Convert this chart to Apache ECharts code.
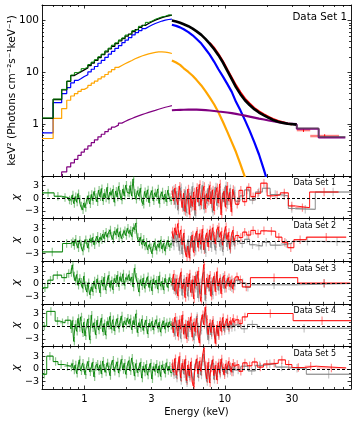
<!DOCTYPE html>
<html>
<head>
<meta charset="utf-8">
<script src="https://cdn.jsdelivr.net/npm/echarts@6/dist/echarts.min.js"></script>
<style>
  html, body { margin: 0; padding: 0; background: #fff; }
  #chart { width: 357px; height: 421px; }
</style>
</head>
<body>
<div id="chart"></div>
<script>
const lg = Math.log10

// ---- axis ranges and ticks ----
const E_MIN = 0.5, E_MAX = 79
const X_MAJOR = [1, 10]
const X_MINOR = [0.6, 0.7, 0.8, 0.9, 2, 3, 4, 5, 6, 7, 8, 9, 20, 30, 40, 50, 60, 70]
const X_LABELS = [1, 3, 10, 30]
const F_MIN = 0.1, F_MAX = 200
const F_MAJOR = [1, 10, 100]
const F_MINOR = [0.2, 0.3, 0.4, 0.5, 0.6, 0.7, 0.8, 0.9, 2, 3, 4, 5, 6, 7, 8, 9, 20, 30, 40, 50, 60, 70, 80, 90, 200]
const R_MIN = -4.8, R_MAX = 5.3
const R_MAJOR = [-3, 0, 3]
const R_MINOR = [-4, -2, -1, 1, 2, 4, 5]

// ---- unfolded spectrum, low energy part (bin edges, step values) ----
const LO_E = [0.50, 0.60, 0.69, 0.75, 0.80, 0.85, 0.90, 0.95, 1.00, 1.06, 1.12, 1.18, 1.25, 1.32, 1.40, 1.48, 1.56, 1.65, 1.75, 1.85, 1.95, 2.06, 2.18, 2.30, 2.43, 2.57, 2.72, 2.87, 3.03, 3.20, 3.38, 3.57, 3.77, 3.98, 4.20]
const totalLo = [1.3, 3.0, 4.6, 6.7, 8.7, 9.5, 10.3, 11.2, 12.2, 13.6, 15.2, 17.0, 19.3, 22.0, 25.0, 28.5, 32.0, 36.0, 40.5, 45.0, 50.0, 55.0, 61.0, 67.0, 74, 81, 88, 95, 102, 108, 114, 119, 124, 128, 131]
const blueLo = [0.68, 2.6, 3.9, 5.1, 6.3, 7.0, 7.6, 8.3, 9.0, 10.2, 11.5, 13.0, 15.0, 17.0, 19.5, 22.5, 25.5, 29.0, 33.0, 37.5, 42.0, 47.0, 53.0, 58.5, 64.0, 70.0, 76.0, 82.0, 88.0, 93.0, 98.0, 102, 105, 107, 108]
const orangeLo = [0.53, 1.29, 2.0, 2.9, 3.5, 3.9, 4.3, 4.7, 5.1, 5.6, 6.2, 6.8, 7.5, 8.2, 9.1, 10.2, 11.3, 12.5, 13.6, 14.7, 15.8, 17.0, 18.3, 19.5, 20.7, 21.8, 22.8, 23.6, 24.3, 24.8, 24.9, 24.6, 24.0, 23.2, 22.4]
const purpleLo = [0.03, 0.07, 0.12, 0.15, 0.18, 0.21, 0.25, 0.29, 0.33, 0.38, 0.44, 0.50, 0.57, 0.64, 0.72, 0.80, 0.88, 0.96, 1.05, 1.13, 1.21, 1.29, 1.37, 1.45, 1.53, 1.61, 1.69, 1.77, 1.85, 1.94, 2.03, 2.12, 2.20, 2.28, 2.33]
const greenLo = [1.32, 3.05, 4.7, 6.8, 8.9, 9.9, 10.5, 11.8, 12.5, 14.2, 15.8, 17.6, 20.1, 22.6, 26.0, 29.4, 33.5, 37.2, 42.3, 46.4, 52.5, 56.8, 63.9, 69.2, 77.5, 83.6, 92.4, 97.8, 106, 112, 118, 121, 129, 127, 134]

// ---- unfolded spectrum, high energy part ----
const HI_E = [4.2, 4.5, 4.8, 5.1, 5.5, 5.9, 6.3, 6.8, 7.3, 7.8, 8.4, 9.0, 9.7, 10.4, 11.2, 12.0, 12.9, 13.9, 15.0, 16.2, 17.5, 19.0, 20.5, 22.0, 24.0, 26.0, 28.0, 32.5]
const totalHi = [100, 96, 91, 85, 78, 70, 62, 53, 44, 36, 28, 21.5, 15.5, 10.8, 7.4, 5.2, 3.8, 2.9, 2.35, 1.95, 1.68, 1.48, 1.33, 1.21, 1.12, 1.06, 1.02, 0.98]
const purpleHi = [1.86, 1.88, 1.89, 1.9, 1.91, 1.91, 1.91, 1.89, 1.87, 1.84, 1.8, 1.76, 1.72, 1.68, 1.63, 1.58, 1.52, 1.46, 1.40, 1.34, 1.28, 1.23, 1.18, 1.14, 1.10, 1.06, 1.03, 1.0]
const blueHi = [83, 79, 74, 68, 60, 52, 44, 36, 28, 22, 16, 11.5, 8.3, 6.0, 4.2, 2.7, 1.85, 1.2, 0.75, 0.45, 0.26, 0.13, 0.065]
const orangeHi = [17, 15.5, 14, 12, 10.2, 8.6, 7.1, 5.6, 4.3, 3.3, 2.4, 1.7, 1.1, 0.72, 0.45, 0.29, 0.17, 0.095, 0.05]
const TAIL_E = [32.5, 46.5, 72]
const totalTail = [0.84, 0.57]
const purpleTail = [0.82, 0.555]
const RD_E = [7.8, 8.4, 9.0, 9.7, 10.4, 11.2, 12.0, 12.9, 13.9, 15.0, 16.2, 17.5, 19.0, 20.5, 22.0, 24.0, 26.0, 28.0, 30.0]
const redHi = [37, 29.5, 22.5, 16.2, 11.4, 7.9, 5.6, 4.1, 3.1, 2.5, 2.05, 1.76, 1.55, 1.38, 1.26, 1.15, 1.09, 1.03, 0.99]
const RX_LO = [32.5, 40.5]
const RX_HI = [40.5, 65]
const redX = [0.77, 0.59]
const redXErr = [0.06, 0.05]

// ---- residuals (chi), shared narrow bin edges ----
const GN_E = [0.80, 0.82, 0.84, 0.86, 0.88, 0.90, 0.92, 0.94, 0.97, 0.99, 1.01, 1.04, 1.06, 1.09, 1.12, 1.14, 1.17, 1.20, 1.23, 1.26, 1.29, 1.32, 1.35, 1.38, 1.41, 1.45, 1.48, 1.52, 1.55, 1.59, 1.63, 1.67, 1.71, 1.75, 1.79, 1.83, 1.88, 1.92, 1.97, 2.02, 2.07, 2.11, 2.17, 2.22, 2.27, 2.32, 2.38, 2.44, 2.50, 2.56, 2.62, 2.68, 2.74, 2.81, 2.88, 2.95, 3.02, 3.09, 3.16, 3.24, 3.32, 3.40, 3.48, 3.56, 3.65, 3.74, 3.82, 3.92, 4.01, 4.11, 4.20]
const RN_E = [4.20, 4.30, 4.40, 4.51, 4.62, 4.73, 4.84, 4.96, 5.08, 5.20, 5.32, 5.45, 5.58, 5.71, 5.85, 5.99, 6.13, 6.28, 6.43, 6.58, 6.74, 6.90, 7.07, 7.24, 7.41, 7.59, 7.77, 7.96, 8.15, 8.34, 8.54, 8.75, 8.96, 9.17, 9.39, 9.62, 9.85, 10.09, 10.33, 10.58, 10.83, 11.09, 11.36, 11.63, 11.91]

// data set 1
const gw1E = [0.50, 0.61, 0.69, 0.77, 0.80]
const gw1 = [1.3, 0.5, 0.2, -0.4]
const gn1 = [-0.6, 0.8, -1.2, 0.4, -0.9, 1.1, -0.2, -1.8, -2.7, -1.1,
  -2.2, -0.4, 0.6, -1.3, 0.9, -0.5, 1.6, 0.2, -0.8, 1.9,
  0.4, 2.3, -0.6, 1.2, 0.1, 2.6, -0.3, 1.5, 0.8, 2.1,
  -0.9, 1.7, 0.3, 2.8, 1.0, -0.4, 2.2, 0.6, 3.1, 1.4,
  1.2, 3.0, 0.6, 4.6, 1.2, -0.2, 1.8, 0.5, 2.4, -0.8,
  -1.4, 1.6, 0.2, 2.0, -1.0, 0.9, 1.8, -0.6, 1.3, 0.4,
  2.2, -1.2, 0.7, 1.5, -0.3, 1.0, -0.8, 1.9, 0.2, -0.5]
const rn1 = [1.8, -0.6, 2.4, 0.3, -1.5, 2.9, 0.8, -2.2, 1.2, -3.1,
  -0.4, 2.2, -3.8, 0.6, -1.9, 1.5, -2.8, 2.6, -0.9, 3.3,
  -1.6, 0.4, 2.8, -2.4, 1.1, -0.7, 3.0, -1.3, 2.0, -2.9,
  0.9, 2.5, -1.1, 3.4, -3.9, 0.2, 1.7, -2.1, 2.9, -0.6,
  1.4, -3.2, 2.1, 0.5]
const rt1E = [11.91, 12.6, 13.4, 14.3, 15.3, 16.5, 18.0, 20.0, 22.3, 24.8, 28.3, 31.7, 40.1, 64.4]
const rt1 = [-1.4, 1.9, -0.8, 2.6, 0.4, 1.2, 3.6, 0.6, 0.8, 1.3, -1.8, -2.2, 1.5]
const kn1 = [0.9, 2.1, -1.4, 1.6, -2.8, 0.4, 2.5, -1.0, -2.9, 1.8,
  -3.4, 0.7, 1.2, -2.2, 2.8, -0.6, -4.1, 1.0, 2.2, -1.8,
  0.3, 3.1, -2.6, 0.8, -1.2, 2.4, -0.3, 1.6, -3.3, 0.6,
  2.7, -1.7, 0.4, 2.0, -2.5, 1.3, -0.9, 3.0, -1.5, 0.2,
  2.3, -2.0, 0.9, 1.8]
const kt1E = [11.91, 12.8, 13.8, 15.0, 16.5, 18.5, 21.0, 24.8, 28.3, 31.7, 44.0, 79]
const kt1 = [-0.7, 0.6, 2.0, -0.4, 1.5, 2.4, 0.9, 0.6, -2.4, -2.6, 1.5]

// data set 2
const gw2E = [0.50, 0.70, 0.80]
const gw2 = [-2.6, -0.6]
const gn2 = [-0.6, -0.2, -1.1, 0.4, -0.8, -1.6, 0.2, -0.9, -2.4, -1.2,
  0.3, -0.6, -1.7, 0.5, -0.3, 0.8, -0.9, 0.2, 1.1, -0.4,
  0.9, 0.3, 1.6, 0.6, 2.1, 0.9, 1.8, 2.6, 1.2, 0.4,
  2.3, 1.5, 2.9, 1.0, 2.2, 0.6, 1.7, 2.4, 1.3, 3.0,
  1.8, 2.5, 1.1, 3.2, 2.7, 4.2, 0.8, -0.2, 0.9, -0.8,
  0.4, -1.2, -0.3, -2.1, -0.9, -1.6, -3.0, -1.3, -0.4, -2.2,
  -0.8, -1.5, 0.2, -1.9, -0.6, -2.4, -0.9, 0.1, -1.4, -0.7]
const rn2 = [2.2, 0.6, 3.1, 1.4, 4.1, 0.8, 2.6, -0.9, 1.8, -2.4,
  -3.8, -1.2, -4.0, -0.6, 1.4, -2.7, 0.9, 2.3, -1.5, 1.7,
  -0.8, 2.8, -2.1, 0.5, 1.9, -1.4, 2.6, 0.2, 3.1, 1.2,
  -0.7, 2.7, 3.3, 0.9, 2.2, -1.0, 1.6, 3.4, 0.4, 2.0,
  -1.8, 1.1, 2.5, -0.3]
const rt2E = [11.91, 12.6, 13.4, 14.3, 15.3, 16.5, 18.0, 20.0, 23.0, 25.5, 28.0, 31.0, 38.0, 73.0]
const rt2 = [1.3, 0.8, 2.1, 1.4, 2.5, 1.7, 2.4, 2.3, 0.9, -0.3, -1.6, 0.3, 0.9]
const kn2 = [1.0, -1.2, 2.0, -0.4, 1.6, -2.3, 0.5, -3.1, 0.9, -1.9,
  -2.6, 0.3, -3.4, 1.1, -1.5, 0.2, -2.4, 1.8, -0.8, 0.6,
  -2.0, 1.4, -1.1, -2.8, 0.7, -0.5, 1.9, -1.6, 2.2, -0.3,
  -2.2, 1.0, 2.4, -1.3, 0.5, -2.5, 0.8, 1.7, -1.4, 0.3,
  -2.1, -0.4, 1.2, -1.0]
const kt2E = [11.91, 12.8, 13.8, 15.0, 16.5, 18.5, 21.0, 25.0, 30.0, 50.0, 79]
const kt2 = [0.1, -0.6, 0.4, -0.9, -1.2, -0.3, -1.0, -0.6, -0.1, -0.2]

// data set 3
const gw3E = [0.50, 0.55, 0.60, 0.69, 0.75, 0.80]
const gw3 = [-1.0, 0.8, 2.0, 1.4, 2.4]
const gn3 = [2.6, 4.4, 1.8, 0.6, 2.1, -0.4, 1.2, 0.3, -1.1, 1.7,
  -0.5, -2.0, 0.2, -2.6, -0.8, -1.9, 0.6, -1.2, 1.1, -0.3,
  -2.2, 0.8, -0.6, 1.5, -1.5, 0.4, 1.9, -0.9, 0.7, -1.4,
  1.2, 0.2, 2.0, -0.7, 1.6, 0.5, 2.3, -0.4, 1.4, 0.9,
  2.1, 0.6, 1.5, -0.8, 3.6, 1.5, 0.3, -2.0, 0.9, -0.5,
  1.3, -1.1, 0.4, 1.6, -0.9, 0.7, -1.7, 1.1, -0.2, 0.8,
  -1.3, 1.8, -0.6, 0.5, -1.5, 1.2, 0.1, -0.9, 1.4, 0.3]
const rn3 = [-0.4, 2.2, -1.8, 1.1, -2.9, 0.6, 2.6, -1.2, 0.2, -3.3,
  1.5, -0.8, 2.3, -2.1, 0.9, -3.6, 1.8, -0.5, 2.9, -1.4,
  -4.2, 0.7, 4.5, -2.6, 1.3, -0.9, 2.0, -3.0, 0.4, 1.7,
  -1.9, 2.8, -0.6, 1.2, -2.4, 0.8, 1.9, -1.1, 0.3, 1.4,
  -0.7, 0.9, -1.3, 0.5]
const rt3E = [11.91, 12.5, 13.3, 15.2, 33.0, 78.0]
const rt3 = [1.6, 0.9, -0.8, 1.4, 0.1]
const kn3 = [0.6, -1.5, 1.2, -2.4, 0.3, -0.9, 1.9, -2.8, 1.0, -1.7,
  0.4, -3.0, 1.4, -0.6, -2.2, 0.8, -1.1, 2.1, -3.4, 0.2,
  -2.5, 1.6, 2.7, -4.0, -0.3, 1.1, -1.8, 0.5, -2.7, 1.3,
  -0.4, 1.8, -1.6, 0.7, -0.9, 1.5, -1.2, 0.4, 0.9, -0.5,
  0.6, -1.0, 0.3, -0.6]
const kt3E = [11.91, 12.8, 14.0, 15.2, 33.0, 79]
const kt3 = [0.8, 0.2, -0.9, -0.3, 0.0]

// data set 4
const gw4E = [0.50, 0.54, 0.62, 0.67, 0.73, 0.80]
const gw4 = [0.0, 3.5, 1.2, 0.8, 1.4]
const gn4 = [-0.6, 1.3, -3.6, 0.4, -1.2, 1.8, -0.3, 2.2, -1.6, 0.9,
  -2.3, 0.5, 1.7, -3.2, 2.6, -0.4, 0.8, -2.0, 1.4, -0.9,
  0.3, 1.9, -1.3, 0.6, -2.1, 1.1, 0.2, 2.3, -0.7, 1.5,
  -1.1, 0.7, 1.8, -0.5, 0.9, 2.4, -0.3, 1.2, 0.4, 1.9,
  0.6, 1.7, -0.8, 1.3, 0.3, 2.9, -1.5, 0.8, -0.4, 1.6,
  -1.0, 0.5, 1.4, -1.8, 0.7, -0.2, 1.1, -0.9, 0.6, 1.5,
  -0.5, 0.9, -1.4, 0.4, 1.2, -0.7, 0.8, -0.3, 1.0, 0.2]
const rn4 = [0.8, -1.6, 2.1, 0.3, -2.4, 1.5, -0.7, 2.6, -1.9, 0.5,
  -3.0, 1.2, -0.4, 2.2, -2.6, 0.9, -1.3, 1.8, -2.2, -4.0,
  1.0, 2.7, 0.4, 4.5, 1.6, -2.0, 0.7, -1.5, 1.4, -0.6,
  -4.1, 0.2, -2.3, 1.1, -1.2, 2.0, -0.5, 0.9, 1.7, -0.3,
  1.2, 0.4, 1.8, 0.9]
const rt4E = [11.91, 12.6, 13.3, 14.5, 30.6, 79]
const rt4 = [1.5, 0.6, 2.2, 3.0, 1.3]
const kn4 = [-0.5, 0.9, -2.2, 1.3, -1.1, 0.2, -2.9, 1.7, -0.6, -1.8,
  0.4, -2.5, 1.0, -0.9, 0.6, -3.2, -1.4, 2.3, -0.2, -2.8,
  -1.0, 1.9, 2.4, 3.1, -0.7, -3.3, 0.5, -2.1, 0.8, -1.6,
  -3.0, -0.8, -1.9, 0.3, -0.5, 1.2, -1.1, 0.2, 0.7, -0.9,
  0.4, -0.3, 0.6, -0.2]
const kt4E = [11.91, 13.0, 14.5, 17.0, 79]
const kt4 = [0.3, -0.6, 0.4, -0.5]

// data set 5
const gw5E = [0.50, 0.54, 0.60, 0.65, 0.72, 0.80]
const gw5 = [-1.3, 3.0, 1.7, 1.0, 0.6]
const gn5 = [0.4, 1.2, -0.3, 0.9, -1.1, 0.6, 2.1, -0.5, 1.3, 0.2,
  -1.4, 0.8, 1.7, -0.7, 0.3, 1.5, -1.9, 0.6, 1.1, -0.4,
  0.9, -1.2, 1.8, 0.1, -0.8, 1.4, 0.5, -1.6, 1.0, 2.0,
  -0.6, 0.7, 1.6, -1.0, 0.4, 2.2, -0.2, 1.3, -1.3, 0.8,
  1.9, -0.5, 2.5, 0.6, -1.7, 1.2, -0.9, 0.3, 1.5, -2.2,
  0.6, -0.8, 1.0, -1.5, 0.2, 1.3, -2.4, 0.5, -0.6, 1.1,
  -1.0, 0.7, -1.8, 0.9, 0.1, -1.1, 1.4, -0.4, 0.6, -0.9]
const rn5 = [1.2, -0.8, 2.4, -1.5, 0.6, 2.9, -2.1, 1.3, -0.4, 2.2,
  -2.8, 0.9, -1.7, 1.6, -3.1, -4.2, 0.4, 2.3, -1.2, 1.8,
  -0.6, 2.6, 4.8, 0.7, -2.4, 1.5, -3.3, 0.2, 2.1, -1.6,
  0.8, -2.6, 1.4, -0.9, 2.3, 0.3, -1.4, 1.1, -0.3, 1.7,
  0.5, -0.8, 1.3, 0.6]
const rt5E = [11.91, 12.6, 13.4, 14.4, 15.6, 17.0, 18.8, 21.0, 24.0, 27.0, 30.0, 37.0, 45.0, 73.0]
const rt5 = [1.0, -0.6, 1.4, 0.7, 1.6, 0.4, 1.1, 1.3, 2.1, 1.0, 0.3, 0.6, 0.2]
const kn5 = [0.6, -1.4, 1.5, -2.2, 0.3, 1.8, -2.8, 0.9, -1.2, 1.4,
  -3.3, -0.5, -2.1, 0.8, -1.9, -2.7, 1.2, 1.6, -2.0, 0.9,
  -1.5, 1.7, 3.5, -0.4, -3.0, 0.6, -2.4, 1.0, 1.3, -2.5,
  -0.2, -1.8, 0.7, -1.3, 1.5, -0.6, -0.9, 0.4, -1.1, 0.8,
  -0.4, 0.3, -0.8, 0.5]
const kt5E = [11.91, 13.0, 14.6, 16.5, 19.0, 23.0, 28.0, 38.0, 79]
const kt5 = [-0.3, 0.6, -0.5, 0.8, 1.2, 0.4, 0.1, -1.3]

const SET_NAMES = ['Data Set 1', 'Data Set 2', 'Data Set 3', 'Data Set 4', 'Data Set 5']
const SETS = [
  { gwE: gw1E, gw: gw1, gn: gn1, rn: rn1, rtE: rt1E, rt: rt1, kn: kn1, ktE: kt1E, kt: kt1 },
  { gwE: gw2E, gw: gw2, gn: gn2, rn: rn2, rtE: rt2E, rt: rt2, kn: kn2, ktE: kt2E, kt: kt2 },
  { gwE: gw3E, gw: gw3, gn: gn3, rn: rn3, rtE: rt3E, rt: rt3, kn: kn3, ktE: kt3E, kt: kt3 },
  { gwE: gw4E, gw: gw4, gn: gn4, rn: rn4, rtE: rt4E, rt: rt4, kn: kn4, ktE: kt4E, kt: kt4 },
  { gwE: gw5E, gw: gw5, gn: gn5, rn: rn5, rtE: rt5E, rt: rt5, kn: kn5, ktE: kt5E, kt: kt5 }
]

// ---- layout ----
const FONT = 'DejaVu Sans'
const PLOT_L = 42, PLOT_W = 309
const PANELS = [
  { top: 5, h: 171 },
  { top: 176, h: 42.6 },
  { top: 218.6, h: 42.6 },
  { top: 261.2, h: 42.6 },
  { top: 303.8, h: 42.6 },
  { top: 346.4, h: 42.6 }
]

const GREEN = '#008000', RED = '#ff0000', GRAY = '#808080'
const BLUE = '#0000ff', ORANGE = '#ffa500', PURPLE = '#800080'

// helpers
const concatEdges = (a, b) => a.slice(0, -1).concat(b)
const stepPts = (edges, vals, ylog) => {
  const n = Math.min(vals.length, edges.length - 1)
  const f = ylog ? lg : (v => v)
  const out = []
  for (let i = 0; i < n; i++) out.push([lg(edges[i]), f(vals[i])])
  out.push([lg(edges[n]), f(vals[n - 1])])
  return out
}
const pairPts = (es, vs) => vs.map((v, i) => [lg(es[i]), lg(v)])
const binData = (edges, vals) => {
  const n = Math.min(vals.length, edges.length - 1)
  const out = []
  for (let i = 0; i < n; i++) out.push([lg(edges[i]), lg(edges[i + 1]), vals[i]])
  return out
}
const powLabel = v => {
  const n = Math.pow(10, v)
  return n >= 1 ? String(Math.round(n)) : n.toFixed(1)
}
const chiLabel = v => (v < 0 ? '\u2212' + Math.abs(v) : String(v))

const LINE = { show: true, onZero: false, lineStyle: { color: '#000', width: 0.9 } }
const NOLINE = { show: false, onZero: false }
const tick = (vals, len) => ({ show: true, inside: true, length: len, customValues: vals, lineStyle: { color: '#000', width: 0.8 } })

const grids = [], xAxes = [], yAxes = []
PANELS.forEach((p, g) => {
  grids.push({ left: PLOT_L, width: PLOT_W, top: p.top, height: p.h, containLabel: false, outerBoundsMode: 'none' })
  const last = g === PANELS.length - 1
  const xb = { gridIndex: g, type: 'value', min: lg(E_MIN), max: lg(E_MAX), splitLine: { show: false } }
  xAxes.push(
    Object.assign({}, xb, {
      position: 'bottom', axisLine: LINE, axisTick: tick(X_MAJOR.map(lg), 3.5),
      axisLabel: last ? { customValues: X_LABELS.map(lg), formatter: powLabel, fontSize: 10, fontFamily: FONT, color: '#000', margin: 5 } : { show: false },
      name: last ? 'Energy (keV)' : '', nameLocation: 'middle', nameGap: 18, nameMoveOverlap: false,
      nameTextStyle: { fontSize: 10, fontFamily: FONT, color: '#000' }
    }),
    Object.assign({}, xb, { position: 'bottom', axisLine: NOLINE, axisTick: tick(X_MINOR.map(lg), 2), axisLabel: { show: false } }),
    Object.assign({}, xb, { position: 'top', axisLine: LINE, axisTick: tick(X_MAJOR.map(lg), 3.5), axisLabel: { show: false } }),
    Object.assign({}, xb, { position: 'top', axisLine: NOLINE, axisTick: tick(X_MINOR.map(lg), 2), axisLabel: { show: false } })
  )
  const main = g === 0
  const yb = main
    ? { gridIndex: g, type: 'value', min: lg(F_MIN), max: lg(F_MAX), splitLine: { show: false } }
    : { gridIndex: g, type: 'value', min: R_MIN, max: R_MAX, splitLine: { show: false } }
  const major = main ? F_MAJOR.map(lg) : R_MAJOR
  const minor = main ? F_MINOR.map(lg) : R_MINOR
  yAxes.push(
    Object.assign({}, yb, {
      position: 'left', axisLine: LINE, axisTick: tick(major, 3.5),
      axisLabel: {
        customValues: major, formatter: main ? powLabel : chiLabel,
        fontSize: main ? 10.5 : 9.5, fontFamily: FONT, color: '#000', margin: 3
      },
      name: main ? 'keV\u00b2 (Photons cm\u207b\u00b2s\u207b\u00b9keV\u207b\u00b9)' : '\u03c7',
      nameLocation: 'middle', nameRotate: 90, nameGap: main ? 24 : 20, nameMoveOverlap: false,
      nameTextStyle: { fontSize: main ? 10.5 : 11, fontFamily: FONT, color: '#000', fontStyle: main ? 'normal' : 'italic' }
    }),
    Object.assign({}, yb, { position: 'left', axisLine: NOLINE, axisTick: tick(minor, 2), axisLabel: { show: false } }),
    Object.assign({}, yb, { position: 'right', axisLine: LINE, axisTick: tick(major, 3.5), axisLabel: { show: false } }),
    Object.assign({}, yb, { position: 'right', axisLine: NOLINE, axisTick: tick(minor, 2), axisLabel: { show: false } })
  )
})

const lineS = (g, data, color, width, step) => ({
  type: 'line', xAxisIndex: 4 * g, yAxisIndex: 4 * g, data, step: step || false,
  showSymbol: false, symbol: 'none', silent: true, clip: true,
  lineStyle: { color, width }
})

// error bars (+-1 for chi residuals) and bin widths drawn through the axes
const errS = (g, data, color) => ({
  type: 'custom', xAxisIndex: 4 * g, yAxisIndex: 4 * g, data, clip: true, silent: true,
  renderItem: (params, api) => {
    const lo = api.value(0), hi = api.value(1), v = api.value(2)
    const xc = (lo + hi) / 2
    const a = api.coord([xc, v - 1]), b = api.coord([xc, v + 1])
    const c = api.coord([lo, v]), d = api.coord([hi, v])
    return {
      type: 'group', children: [
        { type: 'line', shape: { x1: a[0], y1: a[1], x2: b[0], y2: b[1] }, style: { stroke: color, lineWidth: 1.2 } },
        { type: 'line', shape: { x1: c[0], y1: c[1], x2: d[0], y2: d[1] }, style: { stroke: color, lineWidth: 1 } }
      ]
    }
  }
})

const series = []

// ---- main panel ----
series.push(lineS(0, pairPts(RD_E, redHi), RED, 2.2))
series.push({
  type: 'custom', xAxisIndex: 0, yAxisIndex: 0, clip: true, silent: true,
  data: redX.map((v, i) => [lg(RX_LO[i]), lg(RX_HI[i]), lg(v), lg(v - redXErr[i]), lg(v + redXErr[i])]),
  renderItem: (params, api) => {
    const lo = api.value(0), hi = api.value(1), v = api.value(2)
    const xc = (lo + hi) / 2
    const a = api.coord([xc, api.value(3)]), b = api.coord([xc, api.value(4)])
    const c = api.coord([lo, v]), d = api.coord([hi, v])
    return {
      type: 'group', children: [
        { type: 'line', shape: { x1: c[0], y1: c[1], x2: d[0], y2: d[1] }, style: { stroke: 'rgba(255,0,0,0.5)', lineWidth: 2.5 } },
        { type: 'line', shape: { x1: a[0], y1: a[1], x2: b[0], y2: b[1] }, style: { stroke: RED, lineWidth: 1 } }
      ]
    }
  }
})
series.push(lineS(0, stepPts(LO_E, blueLo, true), BLUE, 1.2, 'end'))
series.push(lineS(0, pairPts(HI_E, blueHi), BLUE, 2.2))
series.push(lineS(0, stepPts(LO_E, orangeLo, true), ORANGE, 1.2, 'end'))
series.push(lineS(0, pairPts(HI_E, orangeHi), ORANGE, 2.2))
series.push(lineS(0, stepPts(LO_E, purpleLo, true), PURPLE, 1.2, 'end'))
series.push(lineS(0, pairPts(HI_E, purpleHi), PURPLE, 2.2))
series.push(lineS(0, [[lg(TAIL_E[0]), lg(purpleHi[purpleHi.length - 1])]].concat(stepPts(TAIL_E, purpleTail, true)), PURPLE, 2, 'end'))
series.push(lineS(0, stepPts(LO_E, totalLo, true), '#000', 1.3, 'end'))
series.push(lineS(0, pairPts(HI_E, totalHi), '#000', 2.6))
series.push(lineS(0, [[lg(TAIL_E[0]), lg(totalHi[totalHi.length - 1])]].concat(stepPts(TAIL_E, totalTail, true)), '#555', 1, 'end'))
series.push(lineS(0, stepPts(LO_E, greenLo, true), GREEN, 1, 'end'))

// ---- residual panels ----
SETS.forEach((s, i) => {
  const g = i + 1
  const gE = concatEdges(s.gwE, GN_E), gV = s.gw.concat(s.gn)
  const rE = concatEdges(RN_E, s.rtE), rV = s.rn.concat(s.rt)
  const kE = concatEdges(RN_E, s.ktE), kV = s.kn.concat(s.kt)
  series.push(errS(g, binData(kE, kV), 'rgba(128,128,128,0.45)'))
  series.push(lineS(g, stepPts(kE, kV, false), GRAY, 0.9, 'end'))
  series.push(errS(g, binData(gE, gV), 'rgba(0,128,0,0.45)'))
  series.push(lineS(g, stepPts(gE, gV, false), GREEN, 0.9, 'end'))
  series.push(errS(g, binData(rE, rV), 'rgba(255,0,0,0.45)'))
  const red = lineS(g, stepPts(rE, rV, false), RED, 0.9, 'end')
  red.markLine = {
    silent: true, symbol: 'none', animation: false,
    label: { show: false },
    lineStyle: { color: '#000', width: 1, type: [3, 2] },
    data: [{ yAxis: 0 }]
  }
  series.push(red)
})

// ---- panel labels ----
const graphic = [{
  type: 'text', x: 347, y: 17,
  style: { text: 'Data Set 1', align: 'right', verticalAlign: 'middle', fontSize: 10.3, fontFamily: FONT, fill: '#000' }
}]
SET_NAMES.forEach((t, i) => {
  graphic.push({
    type: 'text', x: 336, y: PANELS[i + 1].top + 7.4,
    style: { text: t, align: 'right', verticalAlign: 'middle', fontSize: 8, fontFamily: FONT, fill: '#000' }
  })
})

const chart = echarts.init(document.getElementById('chart'), null, { renderer: 'canvas' })
chart.setOption({
  animation: false,
  backgroundColor: '#fff',
  textStyle: { fontFamily: FONT },
  grid: grids,
  xAxis: xAxes,
  yAxis: yAxes,
  series,
  graphic
})
</script>
</body>
</html>
